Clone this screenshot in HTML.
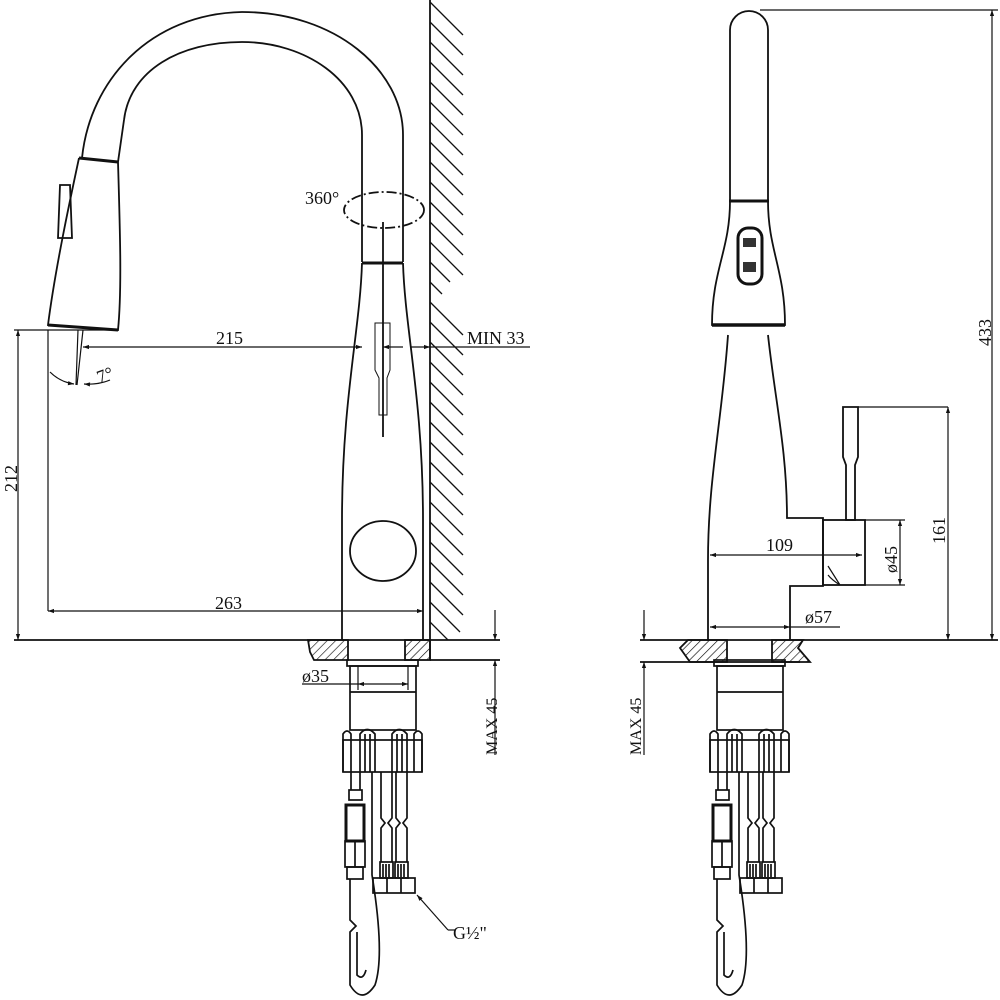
<!DOCTYPE html>
<html><head><meta charset="utf-8"><style>
html,body{margin:0;padding:0;background:#fff}
svg{display:block}
text{font-family:"Liberation Serif",serif;fill:#111}
</style></head><body>
<svg width="1000" height="1000" viewBox="0 0 1000 1000" xmlns="http://www.w3.org/2000/svg">
<defs>
<pattern id="h" width="6" height="6" patternUnits="userSpaceOnUse" patternTransform="rotate(45)">
<line x1="0" y1="0" x2="0" y2="6" stroke="#111" stroke-width="1.3"/>
</pattern>
<marker id="a" viewBox="0 0 10 10" refX="10" refY="5" markerWidth="11" markerHeight="6" orient="auto-start-reverse" markerUnits="userSpaceOnUse">
<path d="M0,1.5 L10,5 L0,8.5 z" fill="#111"/></marker>
<g id="under" fill="none" stroke="#111" stroke-width="1.7">
<rect x="347" y="660" width="71" height="6"/>
<rect x="350" y="666" width="66" height="64"/>
<line x1="350" y1="692" x2="416" y2="692"/>
<rect x="343" y="740" width="79" height="32"/>
<path d="M343,772 V734 q4,-6 8,0 V772 M360,772 V734 q7,-9 15,0 V772 M392,772 V734 q7,-9 15,0 V772 M414,772 V734 q4,-6 8,0 V772"/>
<line x1="365" y1="734" x2="365" y2="772"/><line x1="370" y1="734" x2="370" y2="772"/>
<line x1="397" y1="734" x2="397" y2="772"/><line x1="402" y1="734" x2="402" y2="772"/>
<path d="M351,772 V790 M360,772 V790"/>
<rect x="349" y="790" width="13" height="10"/>
<rect x="346" y="805" width="18" height="36" stroke-width="3"/>
<rect x="345" y="841" width="20" height="26"/>
<line x1="355" y1="841" x2="355" y2="867"/>
<rect x="347" y="867" width="16" height="12"/>
<path d="M350,879 V920 l6,6 -6,6 V985 q12,20 25,0 q10,-30 -3,-110 V772"/>
<path d="M357,932 V975 q6,6 9,-5"/>
<path d="M381,772 V818 l4,5 -4,5 V862 M392,772 V818 l-4,5 4,5 V862 M396,772 V818 l4,5 -4,5 V862 M407,772 V818 l-4,5 4,5 V862"/>
<rect x="380" y="862" width="13" height="16"/><rect x="395" y="862" width="13" height="16"/>
<path d="M383,864 V877 M386,864 V877 M389,864 V877 M398,864 V877 M401,864 V877 M404,864 V877"/>
<rect x="373" y="878" width="42" height="15"/>
<line x1="387" y1="878" x2="387" y2="893"/><line x1="401" y1="878" x2="401" y2="893"/>
</g>
</defs>
<g fill="none" stroke="#111" stroke-width="1.8">
<!-- LEFT VIEW -->
<path d="M82,158 C90,80 150,14 242,12 C335,12 403,70 403,135 V262"/>
<path d="M118,162 L124,120 C130,70 180,42 242,42 C305,42 362,80 362,135 V262"/>
<path d="M79,158 L118,162" stroke-width="3"/>
<path d="M79,158 C70,200 55,270 48,325 L118,330 C122,290 120,230 118,162"/>
<path d="M48,325 L118,330" stroke-width="3"/>
<path d="M60,185 L70,185 L72,238 L58,238 z"/>
<line x1="362" y1="263" x2="403" y2="263" stroke-width="3"/>
<path d="M362,263 C360,330 342,400 342,520 V640"/>
<path d="M403,263 C405,330 423,400 423,520 V640"/>
<ellipse cx="383" cy="551" rx="33" ry="30"/>
<path d="M375,323 H390 V370 L387,378 V415 H379 V378 L375,370 z" stroke-width="1"/>
<line x1="383" y1="222" x2="383" y2="437"/>
<ellipse cx="384" cy="210" rx="40" ry="18" stroke-dasharray="10,3,2,3"/>
<line x1="430" y1="0" x2="430" y2="660"/>
<g stroke-width="1.3">
<path d="M430,2 l33,33 M430,22 l33,33 M430,42 l33,33 M430,62 l33,33 M430,82 l33,33 M430,102 l33,33 M430,122 l33,33 M430,142 l33,33 M430,162 l33,33 M430,182 l33,33 M430,202 l33,33 M430,222 l33,33 M430,242 l33,33 M430,262 l20,20 M430,282 l12,12 M430,302 l33,33 M430,322 l33,33 M430,342 l33,33 M430,362 l33,33 M430,382 l33,33 M430,402 l33,33 M430,422 l33,33 M430,442 l33,33 M430,462 l33,33 M430,482 l33,33 M430,502 l33,33 M430,522 l33,33 M430,542 l33,33 M430,562 l33,33 M430,582 l33,33 M430,602 l30,30 M430,622 l18,18"/>
</g>
<line x1="83" y1="347" x2="362" y2="347" marker-start="url(#a)" marker-end="url(#a)" stroke-width="1.2"/>
<line x1="383" y1="347" x2="403" y2="347" marker-start="url(#a)" stroke-width="1.2"/>
<line x1="410" y1="347" x2="430" y2="347" marker-end="url(#a)" stroke-width="1.2"/>
<line x1="430" y1="347" x2="530" y2="347" stroke-width="1.2"/>
<path d="M78,330 L76,385 M83,330 L77,385" stroke-width="1.2"/>
<path d="M50,372 Q60,382 74,384" stroke-width="1.2" marker-end="url(#a)"/>
<path d="M110,380 Q98,385 84,384" stroke-width="1.2" marker-end="url(#a)"/>
<line x1="14" y1="330" x2="118" y2="330" stroke-width="1.2"/>
<line x1="18" y1="330" x2="18" y2="640" marker-start="url(#a)" marker-end="url(#a)" stroke-width="1.2"/>
<line x1="48" y1="330" x2="48" y2="611" stroke-width="1.2"/>
<line x1="48" y1="611" x2="423" y2="611" marker-start="url(#a)" marker-end="url(#a)" stroke-width="1.2"/>
<line x1="14" y1="640" x2="500" y2="640"/>
<line x1="430" y1="660" x2="500" y2="660"/>
<path d="M308,640 H348 V660 H314 L310,652 z" fill="url(#h)"/>
<rect x="405" y="640" width="25" height="20" fill="url(#h)"/>
<line x1="495" y1="610" x2="495" y2="640" marker-end="url(#a)" stroke-width="1.2"/>
<line x1="495" y1="755" x2="495" y2="660" marker-end="url(#a)" stroke-width="1.2"/>
<line x1="358" y1="684" x2="408" y2="684" marker-start="url(#a)" marker-end="url(#a)" stroke-width="1.2"/>
<line x1="358" y1="666" x2="358" y2="690" stroke-width="1.2"/><line x1="408" y1="666" x2="408" y2="690" stroke-width="1.2"/>
<line x1="302" y1="684" x2="358" y2="684" stroke-width="1.2"/>
<path d="M448,930 L417,895" stroke-width="1.2" marker-end="url(#a)"/>
<line x1="448" y1="930" x2="455" y2="930" stroke-width="1.2"/>
</g>
<use href="#under"/>
<use href="#under" transform="translate(367,0)"/>
<g fill="none" stroke="#111" stroke-width="1.8">
<path d="M730,200 V30 a19,19 0 0 1 38,0 V200"/>
<line x1="729" y1="201" x2="769" y2="201" stroke-width="3"/>
<path d="M730,201 C730,250 712,270 712,325 L785,325 C785,270 768,250 768,201"/>
<path d="M712,325 L785,325" stroke-width="3.5"/>
<rect x="738" y="228" width="24" height="56" rx="10" stroke-width="3"/>
<rect x="743" y="238" width="13" height="9" fill="#333" stroke-width="0"/>
<rect x="743" y="262" width="13" height="10" fill="#333" stroke-width="0"/>
<path d="M728,335 C722,420 708,480 708,560 V640"/>
<path d="M768,335 C775,400 787,450 787,518 H823 V586 H790 V640"/>
<rect x="823" y="520" width="42" height="65"/>
<path d="M828,566 L840,585 M828,575 Q832,580 840,585" stroke-width="1.2"/>
<path d="M843,407 H858 V457 L855,465 V520 H846 V465 L843,457 z"/>
<line x1="858" y1="407" x2="948" y2="407" stroke-width="1.2"/>
<line x1="760" y1="10" x2="998" y2="10" stroke-width="1.2"/>
<line x1="992" y1="10" x2="992" y2="640" marker-start="url(#a)" marker-end="url(#a)" stroke-width="1.2"/>
<line x1="948" y1="407" x2="948" y2="640" marker-start="url(#a)" marker-end="url(#a)" stroke-width="1.2"/>
<line x1="865" y1="520" x2="905" y2="520" stroke-width="1.2"/>
<line x1="865" y1="585" x2="905" y2="585" stroke-width="1.2"/>
<line x1="900" y1="520" x2="900" y2="585" marker-start="url(#a)" marker-end="url(#a)" stroke-width="1.2"/>
<line x1="710" y1="555" x2="862" y2="555" marker-start="url(#a)" marker-end="url(#a)" stroke-width="1.2"/>
<line x1="710" y1="627" x2="790" y2="627" marker-start="url(#a)" marker-end="url(#a)" stroke-width="1.2"/>
<line x1="790" y1="627" x2="840" y2="627" stroke-width="1.2"/>
<line x1="640" y1="640" x2="998" y2="640"/>
<line x1="640" y1="662" x2="800" y2="662"/>
<path d="M688,640 H727 V662 H690 L680,648 z" fill="url(#h)"/>
<path d="M772,640 H803 L798,648 L810,662 H772 z" fill="url(#h)"/>
<line x1="644" y1="610" x2="644" y2="640" marker-end="url(#a)" stroke-width="1.2"/>
<line x1="644" y1="755" x2="644" y2="662" marker-end="url(#a)" stroke-width="1.2"/>
</g>
<g font-size="18">
<text x="305" y="204">360°</text>
<text x="216" y="344">215</text>
<text x="467" y="344">MIN 33</text>
<text x="215" y="609">263</text>
<text x="302" y="682">ø35</text>
<text x="453" y="939" font-family="Liberation Sans, sans-serif">G½"</text>
<text x="97" y="382" transform="rotate(-20 102 376)">7°</text>
<text transform="translate(17,492) rotate(-90)">212</text>
<text transform="translate(497,755) rotate(-90)" font-size="16">MAX 45</text>
<text transform="translate(641,755) rotate(-90)" font-size="16">MAX 45</text>
<text x="766" y="551">109</text>
<text x="805" y="623">ø57</text>
<text transform="translate(897,573) rotate(-90)">ø45</text>
<text transform="translate(945,544) rotate(-90)">161</text>
<text transform="translate(991,346) rotate(-90)">433</text>
</g>
</svg>
</body></html>
